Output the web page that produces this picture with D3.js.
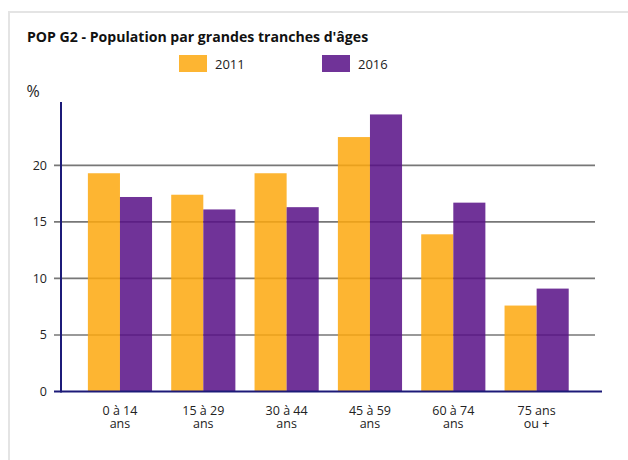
<!DOCTYPE html>
<html>
<head>
<meta charset="utf-8">
<script src="https://cdn.jsdelivr.net/npm/d3@7"></script>
<style>
  body { margin: 0; background: #fff; }
  svg text { font-family: "Open Sans", "Noto Sans", sans-serif; fill: #222; }
</style>
</head>
<body>
<script>
// data
var categories = ["0 à 14|ans", "15 à 29|ans", "30 à 44|ans", "45 à 59|ans", "60 à 74|ans", "75 ans|ou +"];
var series = ["2011", "2016"];
var values2011 = [19.3, 17.4, 19.3, 22.5, 13.9, 7.6];
var values2016 = [17.2, 16.1, 16.3, 24.5, 16.7, 9.1];
var yTicks = [0, 5, 10, 15, 20];
var colors = ["#FDA80E", "#570F86"];

var width = 628, height = 460;

var svg = d3.select("body").append("svg")
    .attr("width", width)
    .attr("height", height);

// card frame
svg.append("path")
    .attr("d", "M9,470 V12 H640")
    .attr("fill", "none")
    .attr("stroke", "#e4e4e4")
    .attr("stroke-width", 2);

// title
svg.append("text")
    .attr("x", 27).attr("y", 42)
    .style("font-size", "14.1px")
    .style("font-weight", "bold")
    .style("fill", "#111")
    .text("POP G2 - Population par grandes tranches d'âges");

// legend
var legendX = [179, 322];
series.forEach(function (s, i) {
    svg.append("rect")
        .attr("x", legendX[i]).attr("y", 55)
        .attr("width", 28).attr("height", 17)
        .attr("fill", colors[i]).attr("fill-opacity", 0.85);
    svg.append("text")
        .attr("x", legendX[i] + 36).attr("y", 68.5)
        .style("font-size", "13px")
        .text(s);
});

// unit label
svg.append("text")
    .attr("x", 26.5).attr("y", 96.5)
    .style("font-size", "16px")
    .text("%");

// scales
var y = d3.scaleLinear().domain([0, 25.6]).range([391.5, 102]);
var x0 = d3.scaleBand().domain(d3.range(categories.length)).range([78.3, 578.3])
    .paddingInner(0.23).paddingOuter(0.115);
var x1 = d3.scaleBand().domain(series).range([0, x0.bandwidth()]);

// gridlines
svg.append("g")
    .selectAll("line")
    .data(yTicks.filter(function (t) { return t > 0; }))
    .enter().append("line")
    .attr("x1", 54).attr("x2", 595)
    .attr("y1", function (d) { return y(d); })
    .attr("y2", function (d) { return y(d); })
    .attr("stroke", "#777")
    .attr("stroke-width", 1.6);

// y tick labels
svg.append("g")
    .selectAll("text")
    .data(yTicks)
    .enter().append("text")
    .attr("x", 47)
    .attr("y", function (d) { return y(d) + 4.5; })
    .attr("text-anchor", "end")
    .style("font-size", "12.5px")
    .text(function (d) { return d; });

// bars
var rows = categories.map(function (c, i) { return [values2011[i], values2016[i]]; });
var groups = svg.append("g")
    .selectAll("g")
    .data(rows)
    .enter().append("g")
    .attr("transform", function (d, i) { return "translate(" + x0(i) + ",0)"; });

groups.selectAll("rect")
    .data(function (d) { return d; })
    .enter().append("rect")
    .attr("x", function (d, j) { return x1(series[j]); })
    .attr("width", x1.bandwidth())
    .attr("y", function (d) { return y(d); })
    .attr("height", function (d) { return y(0) - y(d); })
    .attr("fill", function (d, j) { return colors[j]; })
    .attr("fill-opacity", 0.85);

// axes lines
svg.append("line")
    .attr("x1", 54).attr("x2", 602)
    .attr("y1", y(0)).attr("y2", y(0))
    .attr("stroke", "#1c1a78").attr("stroke-width", 2);
svg.append("line")
    .attr("x1", 61).attr("x2", 61)
    .attr("y1", 102).attr("y2", y(0) + 1)
    .attr("stroke", "#1c1a78").attr("stroke-width", 2);

// x labels, two lines each
var cx = function (d, i) { return x0(i) + x0.bandwidth() / 2; };
svg.append("g")
    .selectAll("text")
    .data(categories)
    .enter().append("text")
    .attr("text-anchor", "middle")
    .attr("x", cx)
    .attr("y", 414.5)
    .style("font-size", "12.5px")
    .text(function (d) { return d.split("|")[0]; });
svg.append("g")
    .selectAll("text")
    .data(categories)
    .enter().append("text")
    .attr("text-anchor", "middle")
    .attr("x", cx)
    .attr("y", 428)
    .style("font-size", "12.5px")
    .text(function (d) { return d.split("|")[1]; });
</script>
</body>
</html>
